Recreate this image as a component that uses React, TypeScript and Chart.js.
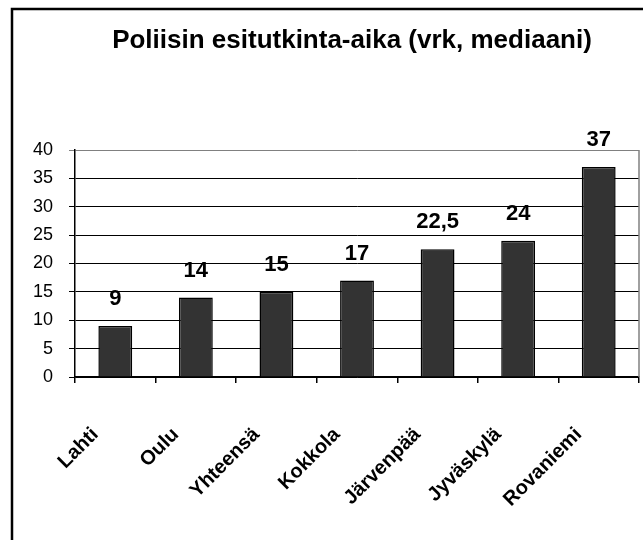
import { useEffect, useRef } from 'react';
import { Chart, registerables } from 'chart.js';

Chart.register(...registerables);

const TITLE = 'Poliisin esitutkinta-aika (vrk, mediaani)';
const categories = ['Lahti', 'Oulu', 'Yhteensä', 'Kokkola', 'Järvenpää', 'Jyväskylä', 'Rovaniemi'];
const values = [9, 14, 15, 17, 22.5, 24, 37];
const yMin = 0;
const yMax = 40;
const yStep = 5;

const FONT = 'Arial, "Liberation Sans", sans-serif';

export default function App() {
  const ref = useRef<HTMLCanvasElement>(null);

  useEffect(() => {
    document.body.style.margin = '0';
    const canvas = ref.current;
    if (!canvas) return;

    const framePlugin = {
      id: 'frame',
      beforeDraw(chart: any) {
        const ctx = chart.ctx;
        ctx.save();
        ctx.fillStyle = '#ffffff';
        ctx.fillRect(0, 0, chart.width, chart.height);
        ctx.strokeStyle = '#000000';
        ctx.lineWidth = 2.5;
        ctx.beginPath();
        ctx.moveTo(12, chart.height + 5);
        ctx.lineTo(12, 9);
        ctx.lineTo(chart.width + 5, 9);
        ctx.stroke();
        // title
        ctx.fillStyle = '#000000';
        ctx.font = 'bold 26px ' + FONT;
        ctx.textAlign = 'center';
        ctx.textBaseline = 'alphabetic';
        ctx.fillText(TITLE, 352, 48);
        ctx.restore();
      },
      beforeDatasetsDraw(chart: any) {
        const ctx = chart.ctx;
        const a = chart.chartArea;
        ctx.save();
        ctx.strokeStyle = '#808080';
        ctx.lineWidth = 1.5;
        ctx.beginPath();
        ctx.moveTo(a.right, a.top);
        ctx.lineTo(a.right, a.bottom);
        ctx.stroke();
        ctx.restore();
      },
      afterDatasetsDraw(chart: any) {
        const ctx = chart.ctx;
        const meta = chart.getDatasetMeta(0);
        ctx.save();
        ctx.fillStyle = '#000000';
        ctx.font = 'bold 22px ' + FONT;
        ctx.textAlign = 'center';
        ctx.textBaseline = 'alphabetic';
        meta.data.forEach((bar: any, i: number) => {
          const label = String(values[i]).replace('.', ',');
          ctx.fillText(label, bar.x, bar.y - 21);
        });
        ctx.restore();
      },
    };

    const chart = new Chart(canvas, {
      type: 'bar',
      data: {
        labels: categories,
        datasets: [
          {
            data: values,
            backgroundColor: '#333333',
            borderColor: '#000000',
            borderWidth: 1.5,
            barPercentage: 0.42,
            categoryPercentage: 1,
          },
        ],
      },
      options: {
        animation: false,
        responsive: false,
        maintainAspectRatio: false,
        devicePixelRatio: 1,
        layout: { padding: { left: 0, right: 4, top: 150, bottom: 0 } },
        plugins: {
          legend: { display: false },
          title: { display: false },
          tooltip: { enabled: false },
        },
        scales: {
          x: {
            afterFit(scale: any) {
              scale.height = 163;
              scale.paddingLeft = 0;
              scale.paddingRight = 0;
            },
            grid: {
              display: true,
              drawOnChartArea: false,
              drawTicks: true,
              tickLength: 6,
              color: '#000000',
              lineWidth: 1.5,
            },
            border: { display: true, color: '#000000', width: 1.5 },
            ticks: {
              autoSkip: false,
              maxRotation: 45,
              minRotation: 45,
              padding: 40,
              labelOffset: -20,
              color: '#000000',
              font: { family: FONT, size: 20, weight: 'bold' },
            },
          },
          y: {
            min: yMin,
            max: yMax,
            afterFit(scale: any) {
              scale.width = 75;
            },
            grid: {
              drawTicks: true,
              tickLength: 6,
              lineWidth: 1,
              color: (c: any) => (c.tick && c.tick.value === yMax ? '#808080' : '#000000'),
            },
            border: { display: true, color: '#000000', width: 1.5 },
            ticks: {
              stepSize: yStep,
              padding: 16,
              color: '#000000',
              font: { family: FONT, size: 18 },
            },
          },
        },
      },
      plugins: [framePlugin],
    });

    return () => chart.destroy();
  }, []);

  return (
    <div style={{ position: 'absolute', left: 0, top: 0, width: 643, height: 540 }}>
      <canvas ref={ref} width={643} height={540} style={{ width: 643, height: 540, display: 'block' }} />
    </div>
  );
}
